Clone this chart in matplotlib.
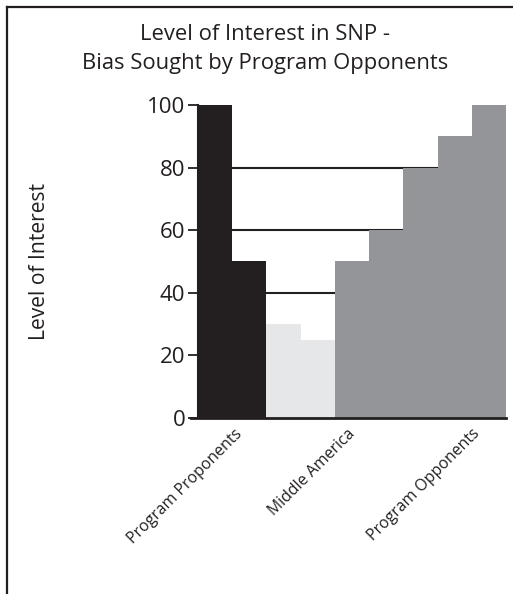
import matplotlib
matplotlib.use("Agg")
import matplotlib.pyplot as plt
from matplotlib.lines import Line2D

plt.rcParams["font.family"] = ["Open Sans", "DejaVu Sans"]

# bar values, left to right
values = [100, 50, 30, 25, 50, 60, 80, 90, 100]
groups = ["pro", "pro", "mid", "mid", "opp", "opp", "opp", "opp", "opp"]
group_colors = {"pro": "#231f20", "mid": "#e6e7e8", "opp": "#939598"}

tick_labels = ["Program Proponents", "Middle America", "Program Opponents"]
tick_pos = [0.56, 3.86, 7.5]
y_ticks = [0, 20, 40, 60, 80, 100]
grid_levels = [20, 40, 60, 80]

W, H = 513, 594
fig = plt.figure(figsize=(W / 100, H / 100), dpi=100)
ax = fig.add_axes([198 / W, 1 - 417.7 / H, 308 / W, 312.7 / H])

x = list(range(len(values)))
ax.bar(x, values, width=1.0, color=[group_colors[g] for g in groups],
       linewidth=0, zorder=2)
for lv in grid_levels:
    ax.axhline(lv, color="#231f20", linewidth=1.5, zorder=1)

ax.set_xlim(-0.5, len(values) - 0.5)
ax.set_ylim(0, 100)
ax.set_yticks(y_ticks)
ax.set_yticklabels([str(v) for v in y_ticks], fontsize=16, color="#231f20")
ax.tick_params(axis="y", length=7, width=1.3, color="#231f20", pad=2)
ax.set_xticks(tick_pos)
ax.set_xticklabels(tick_labels, rotation=45, ha="right", va="top",
                   rotation_mode="anchor", fontsize=11.4, color="#231f20")
ax.tick_params(axis="x", length=0, pad=6)

for s in ["top", "right"]:
    ax.spines[s].set_visible(False)
ax.spines["left"].set_linewidth(1.5)
ax.spines["left"].set_color("#231f20")
ax.spines["bottom"].set_linewidth(2)
ax.spines["bottom"].set_color("#231f20")
ax.spines["bottom"].set_bounds(-0.7, len(values) - 0.5)
ax.spines["bottom"].set_zorder(3)

ax.set_ylabel("Level of Interest", fontsize=15.2, color="#231f20")
ax.yaxis.set_label_coords(40 / W, 1 - 261.5 / H, transform=fig.transFigure)
ax.yaxis.label.set_va("center")

fig.text(265 / W, 1 - 49 / H, "Level of Interest in SNP -\nBias Sought by Program Opponents",
         ha="center", va="center", fontsize=15.8, color="#231f20", linespacing=1.45)

# frame on the top and left edges
fig.add_artist(Line2D([7 / W, 1], [1 - 7 / H, 1 - 7 / H], transform=fig.transFigure,
                      color="#231f20", linewidth=1.6))
fig.add_artist(Line2D([7 / W, 7 / W], [0, 1 - 7 / H], transform=fig.transFigure,
                      color="#231f20", linewidth=1.6))

fig.savefig("out.png", dpi=100)
